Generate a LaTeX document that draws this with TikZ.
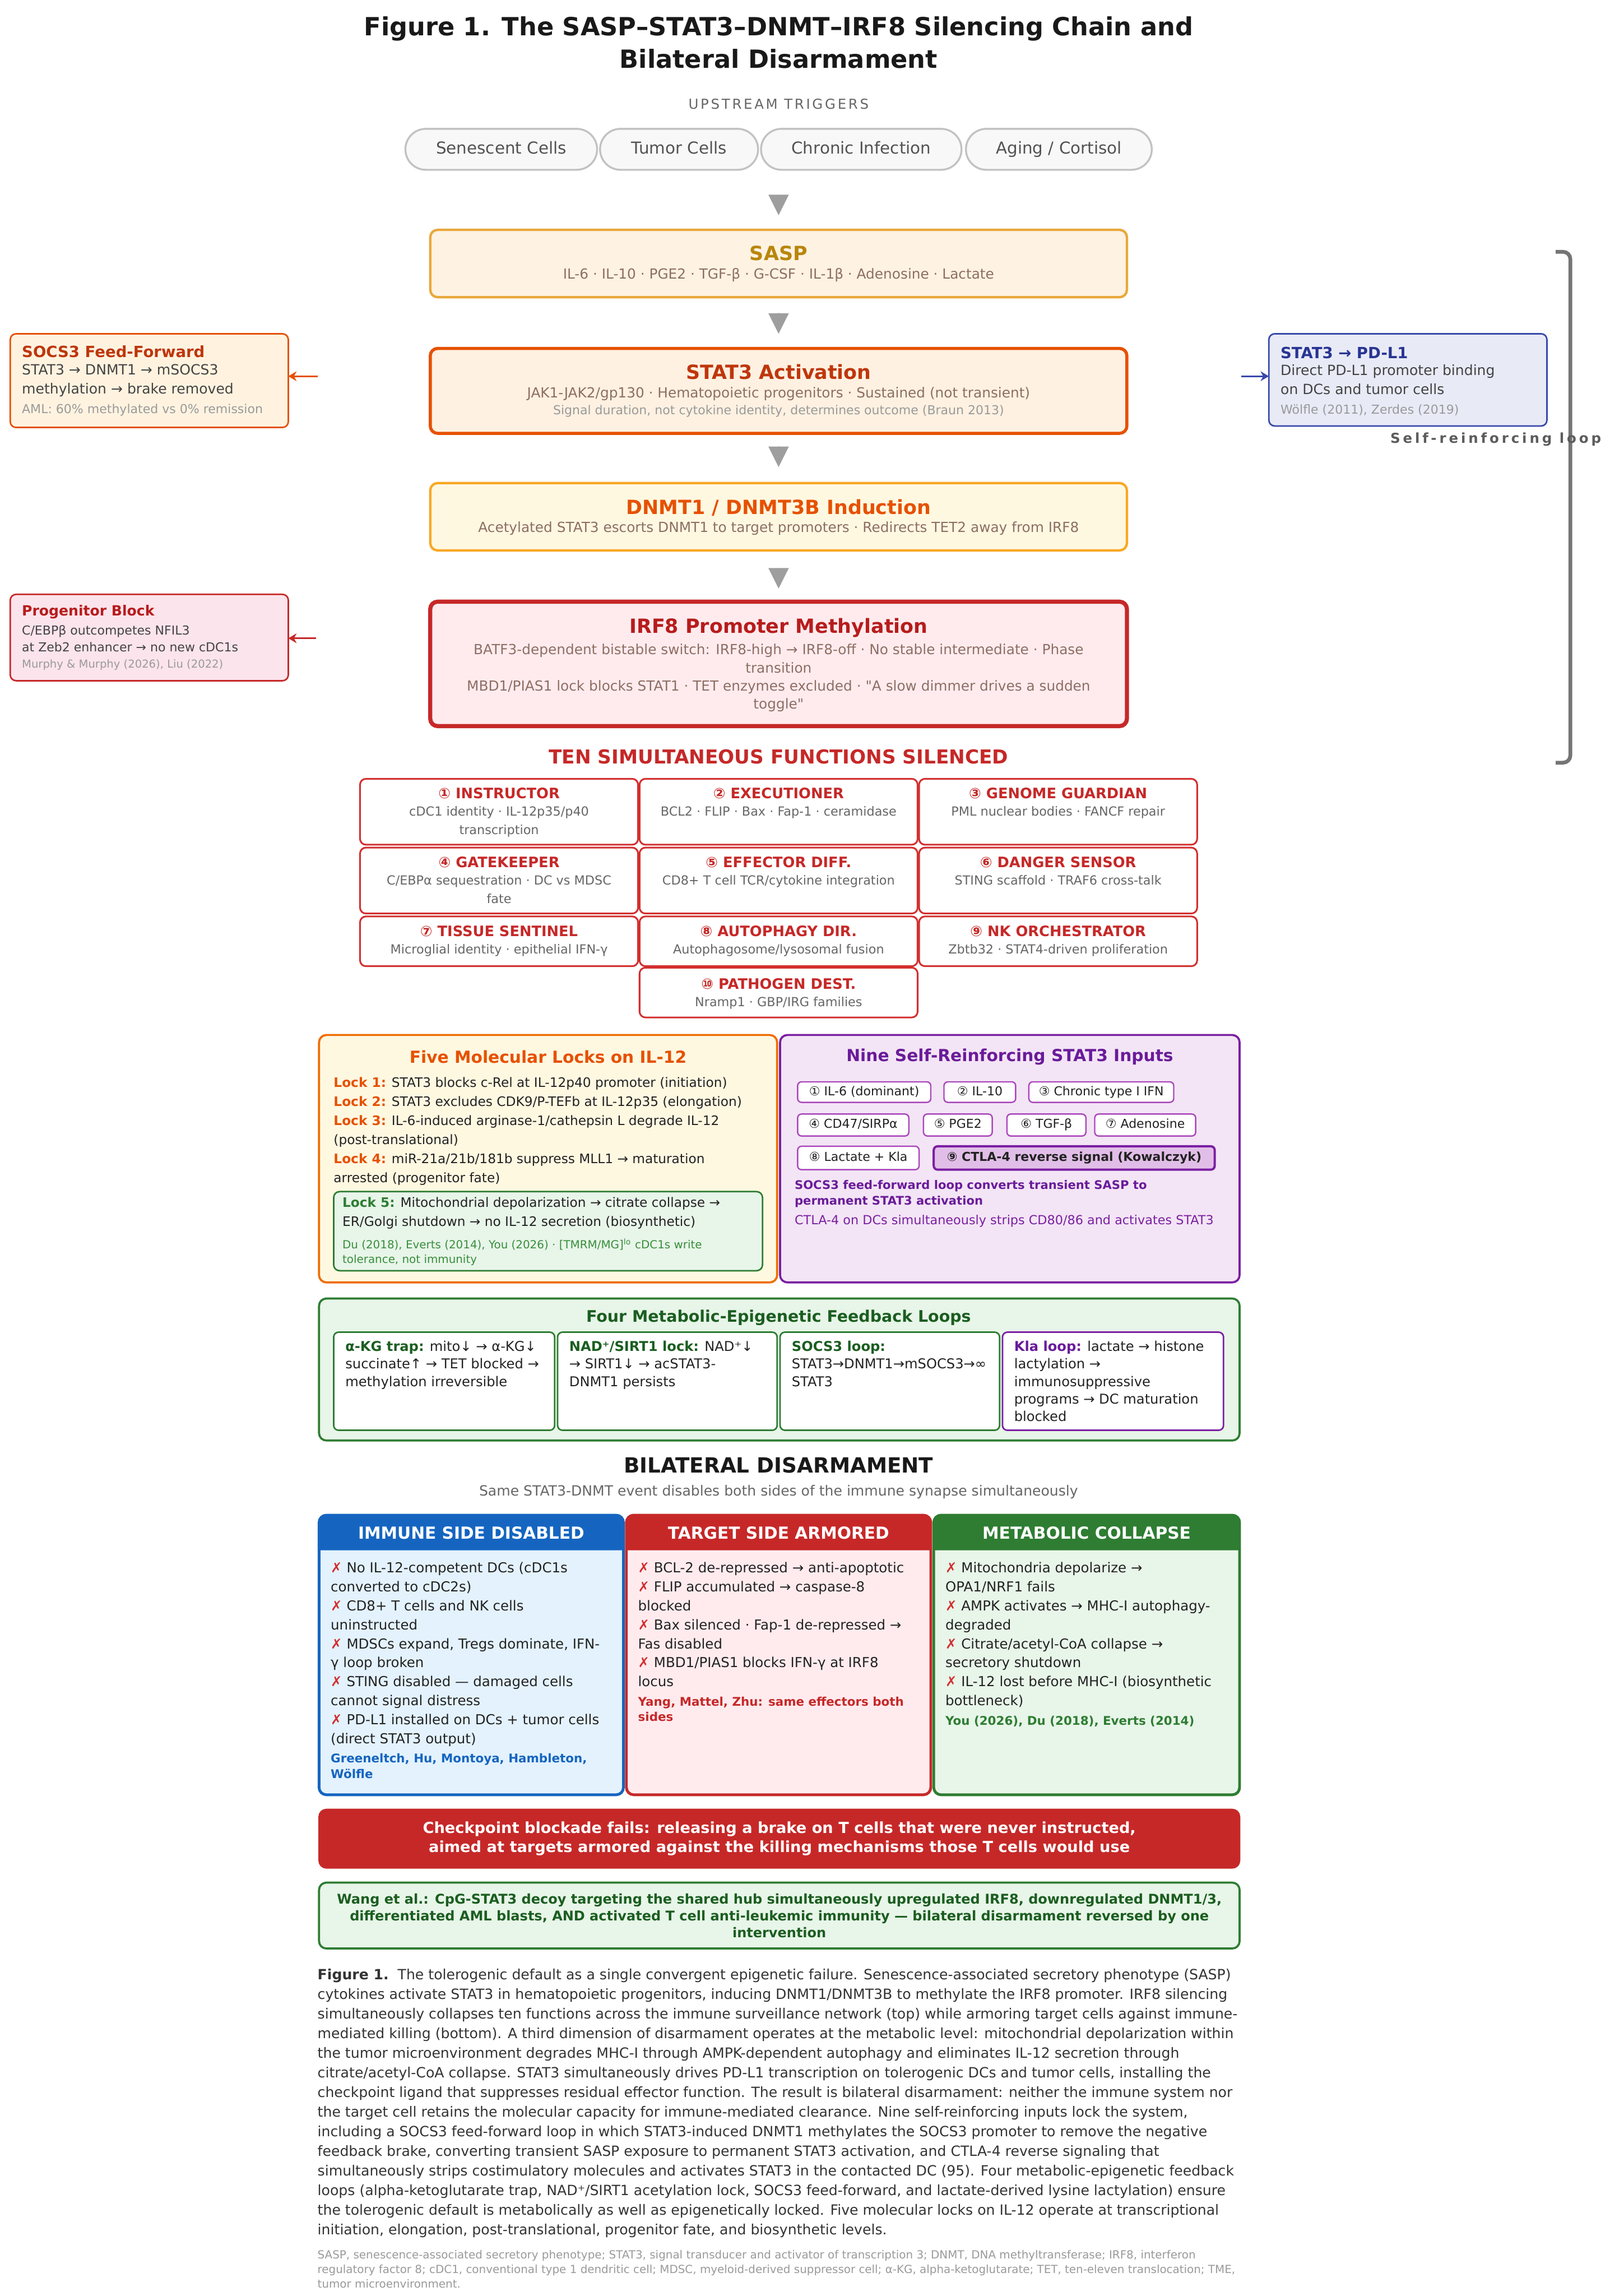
\documentclass[tikz,border=0pt]{standalone}
\usepackage{fontspec}
\setmainfont{DejaVu Sans}[Ligatures=TeXOff]
\usepackage{xcolor}
\usepackage{tikz}
\usetikzlibrary{positioning, arrows.meta, fit, calc}
\definecolor{bodyText}{HTML}{222222}
\definecolor{capText}{HTML}{333333}
\definecolor{mutedText}{HTML}{666666}
\definecolor{faintText}{HTML}{9A9A9A}
\definecolor{subBrown}{HTML}{8D6E63}
\definecolor{pillFill}{HTML}{F8F8F8}
\definecolor{pillEdge}{HTML}{C2C2C2}
\definecolor{chainGray}{HTML}{9E9E9E}
\definecolor{loopGray}{HTML}{757575}
\definecolor{saspFill}{HTML}{FEF2E2}
\definecolor{saspEdge}{HTML}{E9A83B}
\definecolor{saspText}{HTML}{B8860B}
\definecolor{statFill}{HTML}{FEF1E1}
\definecolor{statEdge}{HTML}{E65100}
\definecolor{statText}{HTML}{BF360C}
\definecolor{dnmtFill}{HTML}{FFF8E1}
\definecolor{dnmtEdge}{HTML}{F9A825}
\definecolor{dnmtText}{HTML}{E65100}
\definecolor{irfFill}{HTML}{FFEBEE}
\definecolor{irfEdge}{HTML}{C62828}
\definecolor{irfText}{HTML}{B71C1C}
\definecolor{sideOrange}{HTML}{FFF3E0}
\definecolor{pdlFill}{HTML}{E8EAF6}
\definecolor{pdlEdge}{HTML}{3949AB}
\definecolor{pdlText}{HTML}{283593}
\definecolor{progFill}{HTML}{FCE4EC}
\definecolor{fnEdge}{HTML}{D32F2F}
\definecolor{fnText}{HTML}{C62828}
\definecolor{lockFill}{HTML}{FFF8E1}
\definecolor{lockEdge}{HTML}{EF6C00}
\definecolor{greenFill}{HTML}{E8F5E9}
\definecolor{greenEdge}{HTML}{2E7D32}
\definecolor{greenText}{HTML}{1B5E20}
\definecolor{greenNote}{HTML}{388E3C}
\definecolor{purpFill}{HTML}{F3E5F5}
\definecolor{purpEdge}{HTML}{7B1FA2}
\definecolor{purpText}{HTML}{6A1B9A}
\definecolor{chipEdge}{HTML}{AB47BC}
\definecolor{chipHi}{HTML}{E1BEE7}
\definecolor{immBlue}{HTML}{1565C0}
\definecolor{immFill}{HTML}{E3F2FD}
\definecolor{tgtRed}{HTML}{C62828}
\definecolor{tgtFill}{HTML}{FFEBEE}
\definecolor{crossRed}{HTML}{D32F2F}
\newcommand{\fsz}[2]{\fontsize{#1}{#2}\selectfont}
\newcommand{\nomark}{{\color{crossRed}✗}}
\newcommand{\lockname}[1]{{\bfseries\color{dnmtText}#1}}
\newcommand{\loopname}[1]{{\bfseries\color{greenText}#1}}

\begin{document}
\begin{tikzpicture}[x=0.3mm, y=-0.3mm,
  every node/.style={inner sep=0pt, outer sep=0pt, text=bodyText},
  panel/.style={rectangle, rounded corners=1.5mm, inner sep=0pt},
  pill/.style={panel, rounded corners=4.2mm, draw=pillEdge, fill=pillFill, line width=1.1pt},
  pilltxt/.style={text=mutedText!80!black, font=\fsz{9.6}{11}, text height=7.2pt, text depth=2.2pt},
  boxttl/.style={font=\bfseries\fsz{11.4}{13}},
  boxsub/.style={font=\fsz{8.1}{10.5}, text=subBrown, align=center},
  sidebox/.style={panel, rounded corners=1.2mm, line width=0.9pt},
  sidetxt/.style={font=\fsz{8.2}{11.1}, align=left, text=bodyText!85},
  fnbox/.style={panel, rounded corners=1.2mm, draw=fnEdge, fill=white, line width=1pt},
  fnttl/.style={font=\bfseries\fsz{8.4}{10}, text=fnText},
  fnsub/.style={font=\fsz{7.3}{10.6}, text=mutedText, align=center},
  chip/.style={panel, rounded corners=0.8mm, draw=chipEdge, fill=white, line width=0.8pt},
  chiptxt/.style={font=\fsz{7.2}{8}, text height=5.4pt, text depth=1.6pt},
  subloop/.style={panel, rounded corners=1mm, fill=white, line width=0.9pt},
  looptxt/.style={font=\fsz{7.9}{10.2}, align=left, anchor=north west},
  colttl/.style={font=\bfseries\fsz{9.7}{11}, text=white},
  coltxt/.style={font=\fsz{8}{11.1}, align=left, anchor=north west},
  colref/.style={font=\bfseries\fsz{7}{9}, align=left, anchor=north west},
  flowtip/.style={-{Triangle[length=4.2mm, width=4.2mm]}, chainGray, line width=0pt},
  tap/.style={-{Stealth[length=1.7mm, width=2mm]}, line width=1pt},
]
  \fill[white] (0,0) rectangle (1100,1568.4);
  \useasboundingbox (0,0) rectangle (1100,1568.4);

  \node[font=\bfseries\fsz{14.6}{18.8}, align=center, text=black!90] (fig_title) at (532,29)
       {Figure 1. The SASP–STAT3–DNMT–IRF8 Silencing Chain and\\Bilateral Disarmament};

  % upstream triggers
  \node[font=\fsz{8}{9}\addfontfeature{LetterSpace=15}, text=mutedText] (trig_lbl) at (532,71)
       {UPSTREAM TRIGGERS};
  \node[pill, fit={(277,88) (408,116)}, label={[pilltxt]center:Senescent Cells}] (trig_sen) {};
  \node[pill, fit={(410,88) (518,116)}, label={[pilltxt]center:Tumor Cells}] (trig_tum) {};
  \node[pill, fit={(520,88) (657,116)}, label={[pilltxt]center:Chronic Infection}] (trig_inf) {};
  \node[pill, fit={(660,88) (787,116)}, label={[pilltxt]center:Aging / Cortisol}] (trig_age) {};

  % main chain
  \node[panel, fit={(294,157) (770,203)}, draw=saspEdge, fill=saspFill, line width=1.4pt] (sasp) {};
  \node[boxttl, text=saspText] (sasp_ttl) at (532,173) {SASP};
  \node[boxsub] (sasp_sub) at (532,188)
       {IL-6 · IL-10 · PGE2 · TGF-β · G-CSF · IL-1β · Adenosine · Lactate};

  \node[panel, fit={(294,238) (770,296)}, draw=statEdge, fill=statFill, line width=1.8pt] (stat3) {};
  \node[boxttl, text=statText] (stat3_ttl) at (532,254) {STAT3 Activation};
  \node[boxsub] (stat3_sub) at (532,269)
       {JAK1-JAK2/gp130 · Hematopoietic progenitors · Sustained (not transient)};
  \node[font=\fsz{7.2}{8}, text=faintText] (stat3_note) at (532,281)
       {Signal duration, not cytokine identity, determines outcome (Braun 2013)};

  \node[panel, fit={(294,330) (770,376)}, draw=dnmtEdge, fill=dnmtFill, line width=1.4pt] (dnmt) {};
  \node[boxttl, text=dnmtText] (dnmt_ttl) at (532,347) {DNMT1 / DNMT3B Induction};
  \node[boxsub] (dnmt_sub) at (532,361)
       {Acetylated STAT3 escorts DNMT1 to target promoters · Redirects TET2 away from IRF8};

  \node[panel, fit={(294,411) (770,496)}, draw=irfEdge, fill=irfFill, line width=2.4pt] (irf8) {};
  \node[boxttl, text=irfText] (irf8_ttl) at (532,429) {IRF8 Promoter Methylation};
  \node[boxsub, anchor=north] (irf8_sub) at (532,440)
       {BATF3-dependent bistable switch: IRF8-high → IRF8-off · No stable intermediate · Phase\\
        transition\\
        MBD1/PIAS1 lock blocks STAT1 · TET enzymes excluded · "A slow dimmer drives a sudden\\
        toggle"};

  \draw[flowtip] ($(sasp.north)+(0,-24)$) -- ($(sasp.north)+(0,-10)$);
  \draw[flowtip] ($(stat3.north)+(0,-24)$) -- ($(stat3.north)+(0,-10)$);
  \draw[flowtip] ($(dnmt.north)+(0,-25)$) -- ($(dnmt.north)+(0,-11)$);
  \draw[flowtip] ($(irf8.north)+(0,-23)$) -- ($(irf8.north)+(0,-9)$);

  % side boxes
  \node[sidebox, fit={(7,228) (197,292)}, draw=statEdge, fill=sideOrange] (socs) {};
  \node[anchor=west, font=\bfseries\fsz{9}{10}, text=statText] (socs_ttl) at (15,240) {SOCS3 Feed-Forward};
  \node[sidetxt, anchor=north west] (socs_txt) at (15,249)
       {STAT3 → DNMT1 → mSOCS3\\methylation → brake removed};
  \node[anchor=west, font=\fsz{7.2}{8}, text=faintText] (socs_ref) at (15,280)
       {AML: 60\% methylated vs 0\% remission};
  \coordinate (socs_tap) at (217,257);
  \draw[tap, statEdge] (socs_tap) -- (socs.east |- socs_tap);

  \node[sidebox, fit={(867,228) (1057,291)}, draw=pdlEdge, fill=pdlFill] (pdl1) {};
  \node[anchor=west, font=\bfseries\fsz{9}{10}, text=pdlText] (pdl1_ttl) at (875,241) {STAT3 → PD-L1};
  \node[sidetxt, anchor=north west] (pdl1_txt) at (875,249)
       {Direct PD-L1 promoter binding\\on DCs and tumor cells};
  \node[anchor=west, font=\fsz{7.2}{8}, text=faintText] (pdl1_ref) at (875,280)
       {Wölfle (2011), Zerdes (2019)};
  \coordinate (pdl1_tap) at (848,257);
  \draw[tap, pdlEdge] (pdl1_tap) -- (pdl1.west |- pdl1_tap);

  \node[sidebox, fit={(7,406) (197,465)}, draw=irfEdge, fill=progFill] (prog) {};
  \node[anchor=west, font=\bfseries\fsz{8.2}{10}, text=irfText] (prog_ttl) at (15,418) {Progenitor Block};
  \node[sidetxt, anchor=north west, font=\fsz{7.2}{9.8}] (prog_txt) at (15,427)
       {C/EBPβ outcompetes NFIL3\\at Zeb2 enhancer → no new cDC1s};
  \node[anchor=west, font=\fsz{6.4}{8}, text=faintText] (prog_ref) at (15,454)
       {Murphy \& Murphy (2026), Liu (2022)};
  \coordinate (prog_tap) at (216,436);
  \draw[tap, irfEdge] (prog_tap) -- (prog.east |- prog_tap);

  % loop bracket
  \coordinate (loop_top) at (1073,172);
  \coordinate (loop_bot) at (1073,521);
  \draw[loopGray, line width=2.2pt, rounded corners=1.5mm]
       ($(loop_top)+(-10,0)$) -- (loop_top) -- (loop_bot) -- ($(loop_bot)+(-10,0)$);
  \node[font=\bfseries\fsz{8}{9}\addfontfeature{LetterSpace=20}, text=mutedText!90!black]
       (loop_lbl) at (1022,300) {Self-reinforcing loop};

  % ten functions
  \node[font=\bfseries\fsz{11.2}{12}, text=fnText] (ten_hd) at (532,517) {TEN SIMULTANEOUS FUNCTIONS SILENCED};

  \node[fnbox, fit={(246,532) (436,577)}] (fn1) {};
  \node[fnttl] (fn1_t) at (341,542) {① INSTRUCTOR};
  \node[fnsub, anchor=north] (fn1_s) at (341,551) {cDC1 identity · IL-12p35/p40\\transcription};
  \node[fnbox, fit={(437,532) (627,577)}] (fn2) {};
  \node[fnttl] (fn2_t) at (532,542) {② EXECUTIONER};
  \node[fnsub, anchor=north] (fn2_s) at (532,551) {BCL2 · FLIP · Bax · Fap-1 · ceramidase};
  \node[fnbox, fit={(628,532) (818,577)}] (fn3) {};
  \node[fnttl] (fn3_t) at (723,542) {③ GENOME GUARDIAN};
  \node[fnsub, anchor=north] (fn3_s) at (723,551) {PML nuclear bodies · FANCF repair};

  \node[fnbox, fit={(246,579) (436,624)}] (fn4) {};
  \node[fnttl] (fn4_t) at (341,589) {④ GATEKEEPER};
  \node[fnsub, anchor=north] (fn4_s) at (341,598) {C/EBPα sequestration · DC vs MDSC\\fate};
  \node[fnbox, fit={(437,579) (627,624)}] (fn5) {};
  \node[fnttl] (fn5_t) at (532,589) {⑤ EFFECTOR DIFF.};
  \node[fnsub, anchor=north] (fn5_s) at (532,598) {CD8+ T cell TCR/cytokine integration};
  \node[fnbox, fit={(628,579) (818,624)}] (fn6) {};
  \node[fnttl] (fn6_t) at (723,589) {⑥ DANGER SENSOR};
  \node[fnsub, anchor=north] (fn6_s) at (723,598) {STING scaffold · TRAF6 cross-talk};

  \node[fnbox, fit={(246,626) (436,660)}] (fn7) {};
  \node[fnttl] (fn7_t) at (341,636) {⑦ TISSUE SENTINEL};
  \node[fnsub, anchor=north] (fn7_s) at (341,645) {Microglial identity · epithelial IFN-γ};
  \node[fnbox, fit={(437,626) (627,660)}] (fn8) {};
  \node[fnttl] (fn8_t) at (532,636) {⑧ AUTOPHAGY DIR.};
  \node[fnsub, anchor=north] (fn8_s) at (532,645) {Autophagosome/lysosomal fusion};
  \node[fnbox, fit={(628,626) (818,660)}] (fn9) {};
  \node[fnttl] (fn9_t) at (723,636) {⑨ NK ORCHESTRATOR};
  \node[fnsub, anchor=north] (fn9_s) at (723,645) {Zbtb32 · STAT4-driven proliferation};

  \node[fnbox, fit={(437,661) (627,695)}] (fn10) {};
  \node[fnttl] (fn10_t) at (532,672) {⑩ PATHOGEN DEST.};
  \node[fnsub, anchor=north] (fn10_s) at (532,681) {Nramp1 · GBP/IRG families};

  % five locks
  \node[panel, fit={(218,707) (531,876)}, draw=lockEdge, fill=lockFill, line width=1.2pt] (locks) {};
  \node[font=\bfseries\fsz{9.7}{11}, text=dnmtText] (locks_ttl) at (374.5,722) {Five Molecular Locks on IL-12};
  \node[anchor=north west, align=left, font=\fsz{7.6}{11.1}] (locks_txt) at (228,736)
       {\lockname{Lock 1:} STAT3 blocks c-Rel at IL-12p40 promoter (initiation)\\
        \lockname{Lock 2:} STAT3 excludes CDK9/P-TEFb at IL-12p35 (elongation)\\
        \lockname{Lock 3:} IL-6-induced arginase-1/cathepsin L degrade IL-12\\
        (post-translational)\\
        \lockname{Lock 4:} miR-21a/21b/181b suppress MLL1 → maturation\\
        arrested (progenitor fate)};
  \node[panel, rounded corners=1.2mm, fit={(228,814) (521,868)}, draw=greenEdge, fill=greenFill,
        line width=0.9pt] (lock5) {};
  \node[anchor=north west, align=left, font=\fsz{7.6}{11.1}] (lock5_txt) at (234,818)
       {{\bfseries\color{greenEdge}Lock 5:} Mitochondrial depolarization → citrate collapse →\\
        ER/Golgi shutdown → no IL-12 secretion (biosynthetic)};
  \node[anchor=north west, align=left, font=\fsz{6.5}{8.5}, text=greenNote] (lock5_ref) at (234,846)
       {Du (2018), Everts (2014), You (2026) · [TMRM/MG]\textsuperscript{lo} cDC1s write\\
        tolerance, not immunity};

  % nine inputs
  \node[panel, fit={(533,707) (847,876)}, draw=purpEdge, fill=purpFill, line width=1.2pt] (inputs) {};
  \node[font=\bfseries\fsz{9.7}{11}, text=purpText] (inputs_ttl) at (690,722) {Nine Self-Reinforcing STAT3 Inputs};
  \node[chip, fit={(545,739) (636,753)}, label={[chiptxt]center:① IL-6 (dominant)}] (in1) {};
  \node[chip, fit={(645,739) (694,753)}, label={[chiptxt]center:② IL-10}] (in2) {};
  \node[chip, fit={(703,739) (802,753)}, label={[chiptxt]center:③ Chronic type I IFN}] (in3) {};
  \node[chip, fit={(545,761) (621,776)}, label={[chiptxt]center:④ CD47/SIRPα}] (in4) {};
  \node[chip, fit={(631,761) (678,776)}, label={[chiptxt]center:⑤ PGE2}] (in5) {};
  \node[chip, fit={(688,761) (742,776)}, label={[chiptxt]center:⑥ TGF-β}] (in6) {};
  \node[chip, fit={(748,761) (817,776)}, label={[chiptxt]center:⑦ Adenosine}] (in7) {};
  \node[chip, fit={(545,783) (628,799)}, label={[chiptxt]center:⑧ Lactate + Kla}] (in8) {};
  \node[chip, fit={(638,783) (830,799)}, fill=chipHi, draw=purpEdge, line width=1.3pt,
        label={[chiptxt, font=\bfseries\fsz{7.2}{8}]center:⑨ CTLA-4 reverse signal (Kowalczyk)}] (in9) {};
  \node[anchor=north west, align=left, font=\bfseries\fsz{6.9}{9.4}, text=purpText] (inputs_note) at (543,806)
       {SOCS3 feed-forward loop converts transient SASP to\\permanent STAT3 activation};
  \node[anchor=west, font=\fsz{7.3}{8}, text=purpEdge] (inputs_ctla) at (543,834)
       {CTLA-4 on DCs simultaneously strips CD80/86 and activates STAT3};

  % metabolic loops
  \node[panel, fit={(218,887) (847,984)}, draw=greenEdge, fill=greenFill, line width=1.2pt] (metab) {};
  \node[font=\bfseries\fsz{9.3}{11}, text=greenText] (metab_ttl) at (532,900) {Four Metabolic-Epigenetic Feedback Loops};
  \node[subloop, fit={(228,910) (379,977)}, draw=greenEdge] (akg) {};
  \node[looptxt] (akg_txt) at (236,916)
       {\loopname{α-KG trap:} mito↓ → α-KG↓\\succinate↑ → TET blocked →\\methylation irreversible};
  \node[subloop, fit={(381,910) (531,977)}, draw=greenEdge] (nad) {};
  \node[looptxt] (nad_txt) at (389,916)
       {\loopname{NAD⁺/SIRT1 lock:} NAD⁺↓\\→ SIRT1↓ → acSTAT3-\\DNMT1 persists};
  \node[subloop, fit={(533,910) (683,977)}, draw=greenEdge] (socsloop) {};
  \node[looptxt] (socsloop_txt) at (541,916)
       {\loopname{SOCS3 loop:}\\STAT3→DNMT1→mSOCS3→∞\\STAT3};
  \node[subloop, fit={(685,910) (836,977)}, draw=purpEdge] (kla) {};
  \node[looptxt] (kla_txt) at (693,916)
       {{\bfseries\color{purpText}Kla loop:} lactate → histone\\lactylation →\\immunosuppressive\\
        programs → DC maturation\\blocked};

  % bilateral disarmament
  \node[font=\bfseries\fsz{12.2}{14}, text=black!90] (bil_hd) at (532,1001) {BILATERAL DISARMAMENT};
  \node[font=\fsz{8.2}{9}, text=mutedText] (bil_sub) at (532,1019)
       {Same STAT3-DNMT event disables both sides of the immune synapse simultaneously};

  \node[panel, fit={(218,1035) (426,1226)}, draw=immBlue, fill=immFill, line width=1.6pt] (imm) {};
  \fill[immBlue] (218,1059) [rounded corners=1.5mm] -- (218,1035) -- (426,1035) [sharp corners] -- (426,1059) -- cycle;
  \node[colttl] (imm_ttl) at (322,1047) {IMMUNE SIDE DISABLED};
  \node[coltxt] (imm_txt) at (226,1067)
       {\nomark{} No IL-12-competent DCs (cDC1s\\converted to cDC2s)\\
        \nomark{} CD8+ T cells and NK cells\\uninstructed\\
        \nomark{} MDSCs expand, Tregs dominate, IFN-\\γ loop broken\\
        \nomark{} STING disabled — damaged cells\\cannot signal distress\\
        \nomark{} PD-L1 installed on DCs + tumor cells\\(direct STAT3 output)};
  \node[colref, text=immBlue] (imm_ref) at (226,1198) {Greeneltch, Hu, Montoya, Hambleton,\\Wölfle};

  \node[panel, fit={(428,1035) (636,1226)}, draw=tgtRed, fill=tgtFill, line width=1.6pt] (tgt) {};
  \fill[tgtRed] (428,1059) [rounded corners=1.5mm] -- (428,1035) -- (636,1035) [sharp corners] -- (636,1059) -- cycle;
  \node[colttl] (tgt_ttl) at (532,1047) {TARGET SIDE ARMORED};
  \node[coltxt] (tgt_txt) at (436,1067)
       {\nomark{} BCL-2 de-repressed → anti-apoptotic\\
        \nomark{} FLIP accumulated → caspase-8\\blocked\\
        \nomark{} Bax silenced · Fap-1 de-repressed →\\Fas disabled\\
        \nomark{} MBD1/PIAS1 blocks IFN-γ at IRF8\\locus};
  \node[colref, text=tgtRed] (tgt_ref) at (436,1159) {Yang, Mattel, Zhu: same effectors both\\sides};

  \node[panel, fit={(638,1035) (847,1226)}, draw=greenEdge, fill=greenFill, line width=1.6pt] (met) {};
  \fill[greenEdge] (638,1059) [rounded corners=1.5mm] -- (638,1035) -- (847,1035) [sharp corners] -- (847,1059) -- cycle;
  \node[colttl] (met_ttl) at (742.5,1047) {METABOLIC COLLAPSE};
  \node[coltxt] (met_txt) at (646,1067)
       {\nomark{} Mitochondria depolarize →\\OPA1/NRF1 fails\\
        \nomark{} AMPK activates → MHC-I autophagy-\\degraded\\
        \nomark{} Citrate/acetyl-CoA collapse →\\secretory shutdown\\
        \nomark{} IL-12 lost before MHC-I (biosynthetic\\bottleneck)};
  \node[colref, text=greenEdge] (met_ref) at (646,1172) {You (2026), Du (2018), Everts (2014)};

  % verdict boxes
  \node[panel, fit={(218,1236) (847,1276)}, draw=tgtRed, fill=tgtRed, line width=0.8pt] (ckpt) {};
  \node[font=\bfseries\fsz{8.9}{11.1}, text=white, align=center] (ckpt_txt) at (ckpt.center)
       {Checkpoint blockade fails: releasing a brake on T cells that were never instructed,\\
        aimed at targets armored against the killing mechanisms those T cells would use};
  \node[panel, fit={(218,1286) (847,1331)}, draw=greenEdge, fill=greenFill, line width=1.2pt] (wang) {};
  \node[font=\bfseries\fsz{7.85}{9.8}, text=greenText, align=center] (wang_txt) at (wang.center)
       {Wang et al.: CpG-STAT3 decoy targeting the shared hub simultaneously upregulated IRF8, downregulated DNMT1/3,\\
        differentiated AML blasts, AND activated T cell anti-leukemic immunity — bilateral disarmament reversed by one\\
        intervention};

  % caption
  \node[anchor=north west, align=left, font=\fsz{8.22}{11.44}, text=capText] (caption) at (217,1345)
       {\textbf{Figure 1.}\ \ The tolerogenic default as a single convergent epigenetic failure. Senescence-associated secretory phenotype (SASP)\\
        cytokines activate STAT3 in hematopoietic progenitors, inducing DNMT1/DNMT3B to methylate the IRF8 promoter. IRF8 silencing\\
        simultaneously collapses ten functions across the immune surveillance network (top) while armoring target cells against immune-\\
        mediated killing (bottom). A third dimension of disarmament operates at the metabolic level: mitochondrial depolarization within\\
        the tumor microenvironment degrades MHC-I through AMPK-dependent autophagy and eliminates IL-12 secretion through\\
        citrate/acetyl-CoA collapse. STAT3 simultaneously drives PD-L1 transcription on tolerogenic DCs and tumor cells, installing the\\
        checkpoint ligand that suppresses residual effector function. The result is bilateral disarmament: neither the immune system nor\\
        the target cell retains the molecular capacity for immune-mediated clearance. Nine self-reinforcing inputs lock the system,\\
        including a SOCS3 feed-forward loop in which STAT3-induced DNMT1 methylates the SOCS3 promoter to remove the negative\\
        feedback brake, converting transient SASP exposure to permanent STAT3 activation, and CTLA-4 reverse signaling that\\
        simultaneously strips costimulatory molecules and activates STAT3 in the contacted DC (95). Four metabolic-epigenetic feedback\\
        loops (alpha-ketoglutarate trap, NAD⁺/SIRT1 acetylation lock, SOCS3 feed-forward, and lactate-derived lysine lactylation) ensure\\
        the tolerogenic default is metabolically as well as epigenetically locked. Five molecular locks on IL-12 operate at transcriptional\\
        initiation, elongation, post-translational, progenitor fate, and biosynthetic levels.};
  \node[anchor=north west, align=left, font=\fsz{6.5}{8.6}, text=faintText] (abbrev) at (217,1537)
       {SASP, senescence-associated secretory phenotype; STAT3, signal transducer and activator of transcription 3; DNMT, DNA methyltransferase; IRF8, interferon\\
        regulatory factor 8; cDC1, conventional type 1 dendritic cell; MDSC, myeloid-derived suppressor cell; α-KG, alpha-ketoglutarate; TET, ten-eleven translocation; TME,\\
        tumor microenvironment.};
\end{tikzpicture}
\end{document}
